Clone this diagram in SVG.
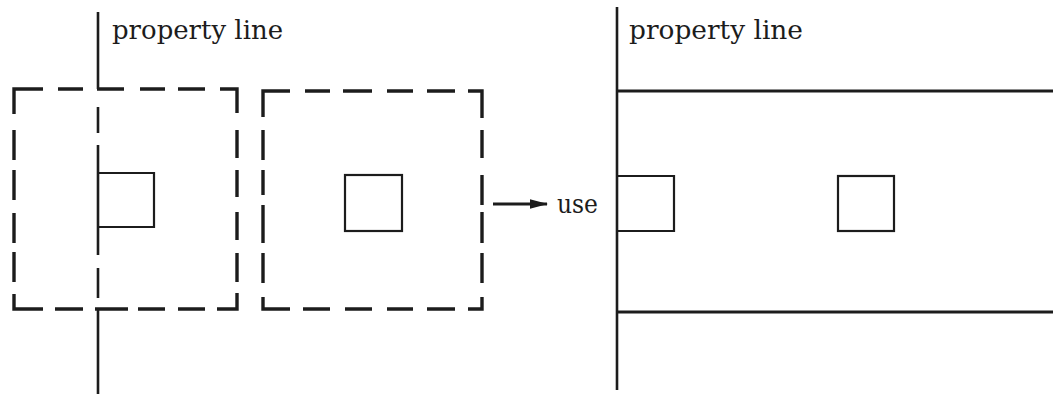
<svg xmlns="http://www.w3.org/2000/svg" width="1053" height="396" viewBox="0 0 1053 396">
  <style>
    .bg { fill: #ffffff; }
    .dash { fill: none; stroke: #1c1c1c; stroke-width: 3.4; stroke-linecap: butt; stroke-linejoin: miter; }
    .prop { fill: none; stroke: #1c1c1c; stroke-width: 2.6; }
    .edge { fill: none; stroke: #1c1c1c; stroke-width: 3; }
    .bldg { fill: none; stroke: #1c1c1c; stroke-width: 2.2; }
    .lbl { font-family: "DejaVu Serif", "Liberation Serif", serif; font-size: 26px; fill: #1c1c1c; }
  </style>
  <defs>
    <marker id="arrowhead" viewBox="0 0 18 10" refX="17" refY="5" markerWidth="18" markerHeight="10" markerUnits="userSpaceOnUse" orient="auto">
      <path d="M0,0.3 L18,5 L0,9.7 Z" fill="#1c1c1c"/>
    </marker>
  </defs>
  <rect class="bg" x="0" y="0" width="1053" height="396"/>

  <!-- Left lot: setback zone straddling the property line -->
  <g id="lot-left">
    <!-- property line, solid outside the setback, dashed inside -->
    <path class="prop" d="M98,12 L98,89 M98,107 L98,133 M98,145 L98,255 M98,268 L98,298 M98,309 L98,394"/>
    <!-- setback outline -->
    <path class="dash" d="
      M14,114 L14,89 L43,89 M58,89 L83,89 M97,89 L124,89 M140,89 L165,89 M178,89 L205,89 M220,89 L237,89 L237,113
      M14,130 L14,160 M14,170 L14,200 M14,213 L14,243 M14,252 L14,282
      M237,130 L237,158 M237,170 L237,197 M237,212 L237,240 M237,253 L237,282
      M14,294 L14,309 L43,309 M55,309 L83,309 M95,309 L128,309 M138,309 L165,309 M178,309 L205,309 M217,309 L237,309 L237,293"/>
    <!-- building set on the property line -->
    <path class="bldg" d="M98,173 L154,173 L154,227 L98,227"/>
    <text class="lbl" x="112" y="39" textLength="171" lengthAdjust="spacingAndGlyphs">property line</text>
  </g>

  <!-- Right lot: setback zone around a free-standing building -->
  <g id="lot-right">
    <path class="dash" d="
      M263,117 L263,91 L290,91 M305,91 L330,91 M343,91 L372,91 M387,91 L413,91 M427,91 L455,91 M468,91 L482,91 L482,118
      M263,130 L263,160 M263,170 L263,195 M263,205 L263,243 M263,253 L263,283
      M482,130 L482,158 M482,175 L482,205 M482,212 L482,243 M482,253 L482,283
      M263,297 L263,309 L290,309 M303,309 L330,309 M345,309 L372,309 M387,309 L413,309 M427,309 L455,309 M468,309 L482,309 L482,297"/>
    <rect class="bldg" x="345" y="175" width="57" height="56"/>
  </g>

  <!-- Resulting use zone -->
  <g id="use-zone">
    <path class="prop" d="M617,7 L617,390"/>
    <path class="edge" d="M617,91 L1053,91 M617,312 L1053,312"/>
    <path class="bldg" d="M617,176 L674,176 L674,231 L617,231"/>
    <rect class="bldg" x="838" y="176" width="56" height="55"/>
    <text class="lbl" x="629" y="39" textLength="174" lengthAdjust="spacingAndGlyphs">property line</text>
  </g>

  <g id="connectors">
    <line class="edge" x1="493" y1="204" x2="547" y2="204" marker-end="url(#arrowhead)"/>
    <text class="lbl" x="557" y="213" textLength="41" lengthAdjust="spacingAndGlyphs">use</text>
  </g>
</svg>
